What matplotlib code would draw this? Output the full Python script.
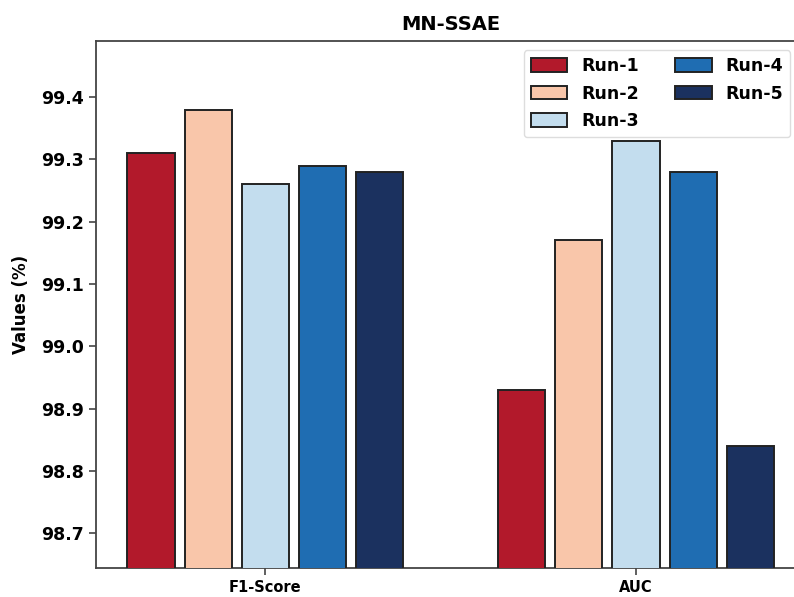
import matplotlib.pyplot as plt
import numpy as np

metrics = ["F1-Score", "AUC"]
runs = ["Run-1", "Run-2", "Run-3", "Run-4", "Run-5"]
f1_vals = [99.31, 99.38, 99.26, 99.29, 99.28]
auc_vals = [98.93, 99.17, 99.33, 99.28, 98.84]
colors = ["#b2192b", "#f9c6aa", "#c3ddee", "#1f6db2", "#1b315f"]
yticks = [98.7, 98.8, 98.9, 99.0, 99.1, 99.2, 99.3, 99.4]

values = np.array([f1_vals, auc_vals])  # (metric, run)

fig = plt.figure(figsize=(7.94, 5.97), dpi=100)
ax = fig.add_axes([0.121, 0.0486, 0.893, 0.8825])

x = np.arange(len(metrics))
step = 0.154
width = 0.127
for i, run in enumerate(runs):
    ax.bar(x + (i - 2) * step, values[:, i], width=width, color=colors[i],
           edgecolor="#222222", linewidth=1.4, label=run, zorder=3)

ax.set_xlim(-0.456, 1.456)
ax.set_ylim(98.644, 99.49)
ax.set_xticks(x)
ax.set_xticklabels(metrics, fontsize=10.5, fontweight="bold")
ax.set_yticks(yticks)
ax.set_yticklabels([f"{t:.1f}" for t in yticks], fontsize=12.5, fontweight="bold")
ax.set_ylabel("Values (%)", fontsize=12, fontweight="bold", labelpad=8)
ax.set_title("MN-SSAE", fontsize=14, fontweight="bold", pad=8)

for s in ax.spines.values():
    s.set_color("#444444")
    s.set_linewidth(1.3)
ax.tick_params(axis="both", color="#444444", width=1.2, length=5)

leg = ax.legend(ncol=2, loc="upper right", bbox_to_anchor=(0.979, 0.983),
                borderaxespad=0.0,
                prop={"weight": "bold", "size": 12.5},
                handlelength=2.1, handleheight=0.8, handletextpad=0.8,
                columnspacing=2.1, labelspacing=0.55, borderpad=0.4,
                framealpha=1.0, edgecolor="#dddddd")

fig.savefig("out.png", dpi=100)
